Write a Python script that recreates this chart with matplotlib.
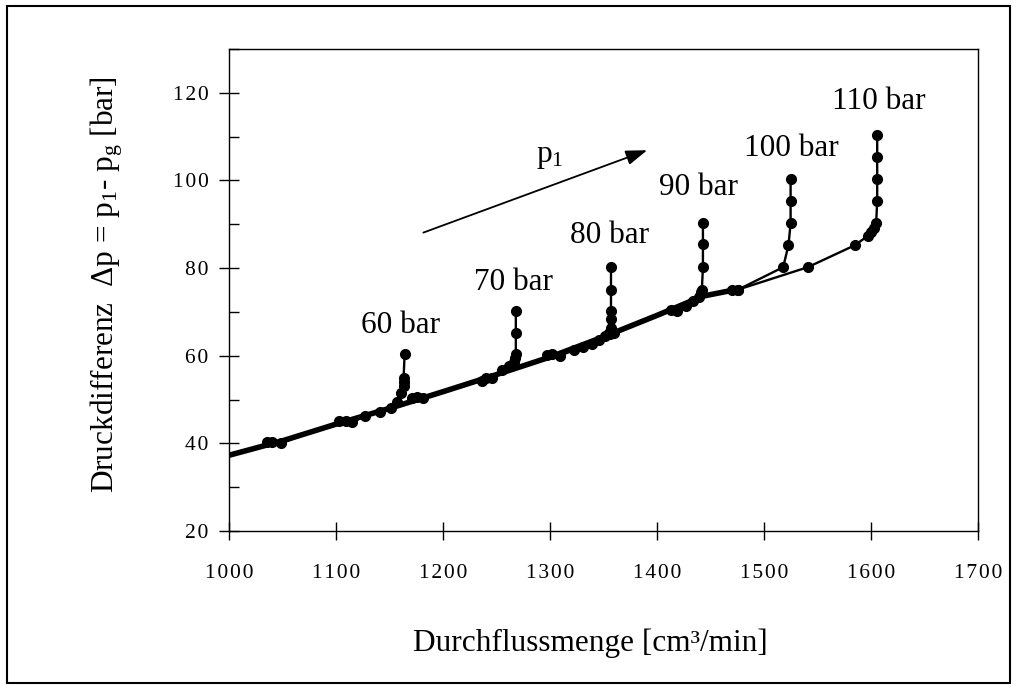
import matplotlib
matplotlib.use("Agg")
import matplotlib.pyplot as plt
from matplotlib.patches import Rectangle
from matplotlib.ticker import MultipleLocator, FuncFormatter

plt.rcParams['font.family'] = ['Liberation Serif', 'DejaVu Serif']
plt.rcParams['mathtext.default'] = 'regular'

# ---- data ----
trend_x = [1000, 1050, 1100, 1150, 1200, 1250, 1300, 1350, 1400, 1443, 1476]
trend_y = [37.3, 40.6, 44.4, 48.0, 51.8, 55.7, 59.7, 64.3, 69.2, 73.6, 75.2]

s60_x = [1035, 1040, 1048, 1103, 1109, 1115, 1127, 1141, 1151, 1157, 1161, 1163, 1163, 1163, 1164]
s60_y = [40.2, 40.2, 40.0, 45.0, 45.0, 44.8, 46.3, 47.2, 48.1, 49.5, 51.5, 53.0, 54.0, 55.0, 60.3]

s70_x = [1171, 1176, 1181, 1236, 1240, 1246, 1255, 1262, 1266, 1267, 1268, 1268, 1268]
s70_y = [50.4, 50.5, 50.3, 54.3, 55.0, 55.0, 56.8, 57.6, 58.5, 59.5, 60.3, 65.3, 70.3]

s80_x = [1297, 1302, 1309, 1322, 1331, 1339, 1346, 1351, 1355, 1357, 1357, 1357, 1357, 1357]
s80_y = [60.2, 60.3, 60.0, 61.2, 62.0, 62.6, 63.6, 64.5, 65.3, 66.4, 68.3, 70.3, 75.1, 80.2]

s90_x = [1356, 1360, 1413, 1419, 1427, 1434, 1439, 1441, 1442, 1443, 1443, 1443]
s90_y = [65.0, 65.3, 70.5, 70.2, 71.3, 72.4, 73.5, 74.5, 75.1, 80.2, 85.4, 90.2]

s100_x = [1470, 1476, 1518, 1523, 1525, 1525, 1525]
s100_y = [75.1, 75.1, 80.2, 85.2, 90.2, 95.3, 100.3]

s110_x = [1476, 1541, 1585, 1597, 1600, 1603, 1605, 1606, 1606, 1606, 1606]
s110_y = [75.1, 80.2, 85.2, 87.3, 88.3, 89.2, 90.2, 95.3, 100.3, 105.4, 110.4]

series = [(s60_x, s60_y), (s70_x, s70_y), (s80_x, s80_y),
          (s90_x, s90_y), (s100_x, s100_y), (s110_x, s110_y)]

labels = ["60 bar", "70 bar", "80 bar", "90 bar", "100 bar", "110 bar"]
label_x = [1160.4, 1265.6, 1355.4, 1438.7, 1526.0, 1607.5]
label_y = [65.3, 74.9, 85.8, 96.7, 105.5, 116.2]

x_ticks = [1000, 1100, 1200, 1300, 1400, 1500, 1600, 1700]
y_ticks = [20, 40, 60, 80, 100, 120]

# ---- figure ----
fig = plt.figure(figsize=(10.18, 6.90), dpi=100)
ax = fig.add_axes([229.3 / 1018, 1 - 531 / 690, (977.7 - 229.3) / 1018, (531 - 49) / 690])

ax.plot(trend_x, trend_y, color='black', lw=4.0, solid_capstyle='butt', zorder=2)
for sx, sy in series:
    ax.plot(sx, sy, color='black', lw=1.7, marker='o', markersize=7, zorder=3)

for t, lx, ly in zip(labels, label_x, label_y):
    ax.text(lx, ly, t, ha='center', va='baseline', fontsize=22.5)

ax.annotate('', xy=(1390.9, 106.9), xytext=(1181.5, 88.1),
            arrowprops=dict(arrowstyle='-|>,head_length=1.3,head_width=0.45',
                            color='black', lw=1.3, shrinkA=0, shrinkB=0))
ax.text(1300, 104.1, 'p$_1$', ha='center', va='baseline', fontsize=22.5)

ax.set_xlim(1000, 1700)
ax.set_ylim(20, 130)
ax.set_xticks(x_ticks)
ax.set_yticks(y_ticks)
ax.yaxis.set_minor_locator(MultipleLocator(10))

spaced = FuncFormatter(lambda v, p: '\u200a'.join(str(int(round(v)))))
ax.xaxis.set_major_formatter(spaced)
ax.yaxis.set_major_formatter(spaced)

ax.tick_params(axis='x', which='major', direction='inout', length=13, width=1,
               labelsize=15.5, pad=17)
ax.tick_params(axis='y', which='major', direction='inout', length=14, width=1,
               labelsize=15.5, pad=8)
ax.tick_params(axis='y', which='minor', direction='in', length=7, width=1)
for s in ax.spines.values():
    s.set_linewidth(1.0)

fig.text(590 / 1018, 1 - 643 / 690, 'Durchflussmenge [cm³/min]',
         ha='center', va='center', fontsize=22.5)
fig.text(107 / 1018, 1 - 284.5 / 690, 'Druckdifferenz  Δp = p$_1$- p$_g$ [bar]',
         ha='center', va='center', rotation=90, fontsize=22.5)

fig.patches.append(Rectangle((7 / 1018, 1 - 683 / 690), (1010 - 7) / 1018, (683 - 6) / 690,
                             transform=fig.transFigure, fill=False, lw=1.5,
                             edgecolor='black'))

fig.savefig('out.png', dpi=100)
